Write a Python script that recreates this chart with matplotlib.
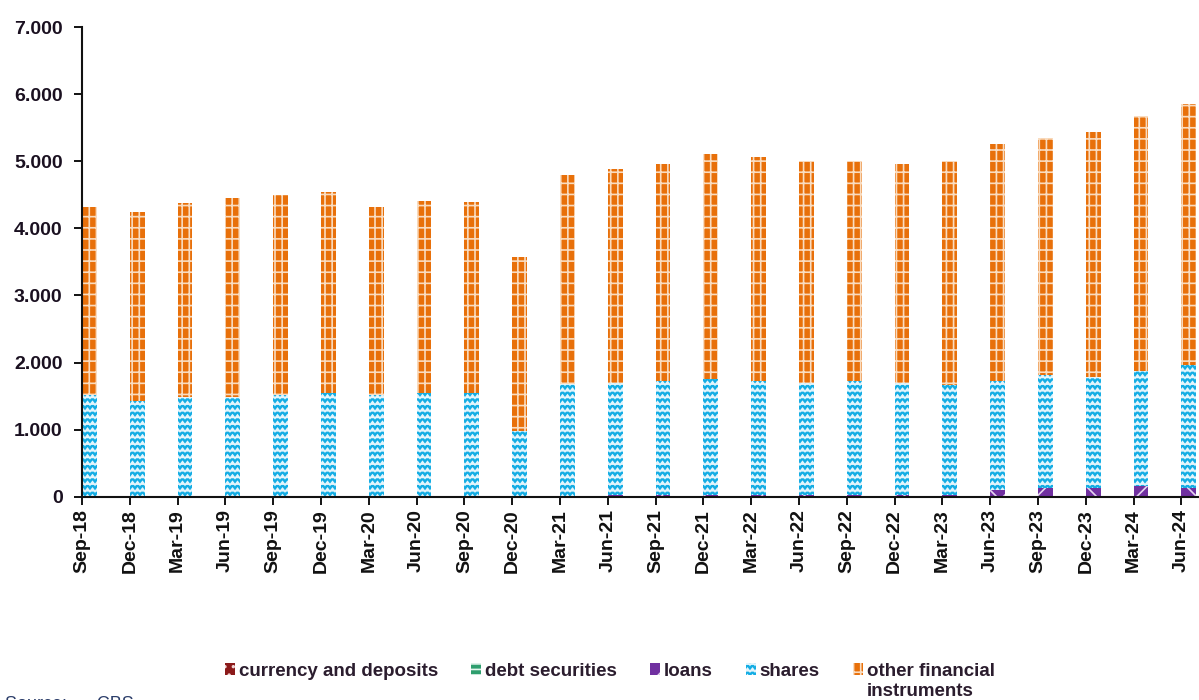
import warnings
import numpy as np
import matplotlib
matplotlib.use("Agg")
import matplotlib.pyplot as plt
import matplotlib.hatch as mhatch
from matplotlib.path import Path
from matplotlib.patches import Patch

warnings.filterwarnings("ignore")

quarters = ["Sep-18", "Dec-18", "Mar-19", "Jun-19", "Sep-19", "Dec-19",
            "Mar-20", "Jun-20", "Sep-20", "Dec-20", "Mar-21", "Jun-21",
            "Sep-21", "Dec-21", "Mar-22", "Jun-22", "Sep-22", "Dec-22",
            "Mar-23", "Jun-23", "Sep-23", "Dec-23", "Mar-24", "Jun-24"]

currency = [0] * 24
debt = [0] * 24
loans = [0, 0, 0, 0, 0, 0, 0, 0, 0, 0, 0, 20,
         20, 20, 20, 20, 20, 20, 20, 100, 135, 135, 160, 135]
shares = [1510, 1420, 1480, 1480, 1520, 1540, 1510, 1550, 1540, 980, 1680, 1680,
          1710, 1730, 1700, 1680, 1700, 1680, 1640, 1630, 1675, 1645, 1710, 1825]
other = [2810, 2820, 2890, 2970, 2980, 3000, 2810, 2860, 2850, 2590, 3120, 3180,
         3230, 3360, 3350, 3310, 3290, 3260, 3340, 3530, 3540, 3650, 3800, 3900]

yticks = [0, 1000, 2000, 3000, 4000, 5000, 6000, 7000]
ytick_labels = ["0", "1.000", "2.000", "3.000", "4.000", "5.000", "6.000", "7.000"]


# wavy hatch for shares ('~')
class WaveHatch(mhatch.HatchPatternBase):
    periods = 20

    def __init__(self, hatch, density):
        self.num_lines = hatch.count('~') * 5
        self.num_vertices = self.num_lines * (2 * self.periods + 1)

    def set_vertices_and_codes(self, vertices, codes):
        n = 2 * self.periods + 1
        xs = np.linspace(0.0, 1.0, n)
        amp = np.where(np.arange(n) % 2 == 0, -0.016, 0.016)
        steps, step = np.linspace(0.0, 1.0, self.num_lines, False, retstep=True)
        steps += step / 2.
        for i, y in enumerate(steps):
            vertices[i * n:(i + 1) * n, 0] = xs
            vertices[i * n:(i + 1) * n, 1] = y + amp
            codes[i * n] = Path.MOVETO
            codes[i * n + 1:(i + 1) * n] = Path.LINETO


# open grid for other financial instruments ('g')
class GridHatch(mhatch.HatchPatternBase):
    def __init__(self, hatch, density):
        k = hatch.count('g')
        self.nh = 9 * k
        self.nv = 14 * k
        self.num_vertices = 2 * (self.nh + self.nv)

    def set_vertices_and_codes(self, vertices, codes):
        hs = (np.arange(self.nh) + 0.5) / self.nh
        vs = (np.arange(self.nv) + 0.5) / self.nv
        m = 2 * self.nh
        vertices[0:m:2] = np.column_stack([np.zeros(self.nh), hs])
        vertices[1:m:2] = np.column_stack([np.ones(self.nh), hs])
        vertices[m::2] = np.column_stack([vs, np.zeros(self.nv)])
        vertices[m + 1::2] = np.column_stack([vs, np.ones(self.nv)])
        codes[0::2] = Path.MOVETO
        codes[1::2] = Path.LINETO


mhatch._hatch_types.append(WaveHatch)
mhatch._hatch_types.append(GridHatch)

plt.rcParams['hatch.linewidth'] = 1.2
plt.rcParams['font.family'] = ['Liberation Sans', 'DejaVu Sans']

series = [
    ("currency and deposits", currency, "#8b1a1a", "..", "#f3d6d6"),
    ("debt securities", debt, "#2e9e6e", "---", "#e6f5ee"),
    ("loans", loans, "#7030a0", "x", "#e6d6f0"),
    ("shares", shares, "#14ade4", "~~~", "#e4f5fc"),
    ("other financial", other, "#e8700a", "g", "#f9dcc0"),
]

fig = plt.figure(figsize=(11.99, 7.0), dpi=100)
ax = fig.add_axes([0.0684, 0.2904, 0.9316, 0.671])

x = np.arange(len(quarters))
bottom = np.zeros(len(quarters))
handles = []
for name, vals, col, hatch, hcol in series:
    vals = np.array(vals, dtype=float)
    ax.bar(x, vals, width=0.31, bottom=bottom, align='edge', color=col,
           edgecolor=hcol, linewidth=0, hatch=hatch)
    bottom += vals
    handles.append(Patch(facecolor=col, edgecolor=hcol, linewidth=0,
                         hatch=hatch, label=name))

ax.set_xlim(0, (1199 - 82) / 47.8)
ax.set_ylim(0, 7000)
ax.set_xticks(x)
ax.set_xticklabels(quarters, rotation=90, fontsize=14, fontweight='bold',
                   color='#111111')
ax.set_yticks(yticks)
ax.set_yticklabels(ytick_labels, fontsize=14, fontweight='bold', color='#1a1020')
ax.tick_params(axis='x', length=6, width=1.3, pad=3, direction='out')
ax.tick_params(axis='y', length=6, width=1.3, pad=8, direction='out')
for s in ['top', 'right']:
    ax.spines[s].set_visible(False)
for s in ['left', 'bottom']:
    ax.spines[s].set_linewidth(1.5)
    ax.spines[s].set_color('#111111')

leg = fig.legend(handles=handles, loc='center left',
                 bbox_to_anchor=(225 / 1199, 1 - 671 / 700),
                 ncol=5, frameon=False, borderpad=0, borderaxespad=0,
                 handlelength=0.55, handleheight=0.55,
                 handletextpad=0.2, columnspacing=1.75,
                 prop={'weight': 'bold', 'size': 13.5})
for t in leg.get_texts():
    t.set_color('#2b1d2e')

# second line of the last legend label, placed under the first
fig.canvas.draw()
bb = leg.get_texts()[-1].get_window_extent()
W, H = fig.canvas.get_width_height()
fig.text(bb.x0 / W, (bb.y0 - 20) / H, "instruments", fontsize=13.5,
         fontweight='bold', color='#2b1d2e', va='bottom')

fig.text(0.004, -0.013, "Source:      CBS", fontsize=13, color='#2c3e6a',
         va='baseline')

fig.savefig("out.png", dpi=100)
